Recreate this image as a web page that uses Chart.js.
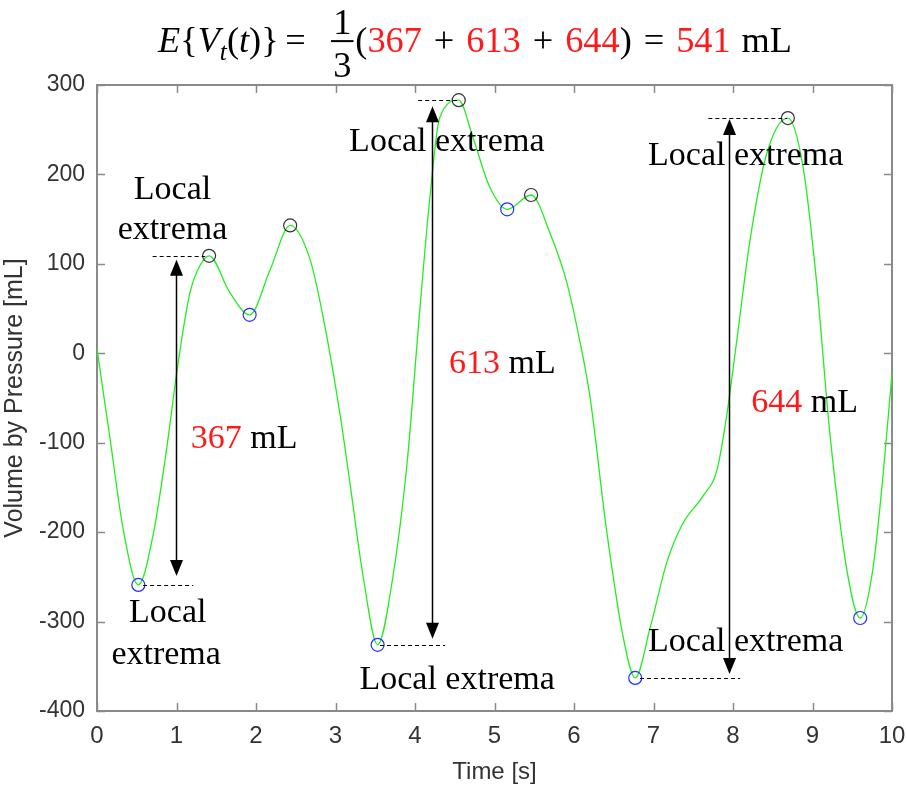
<!DOCTYPE html>
<html>
<head>
<meta charset="utf-8">
<script src="https://cdn.jsdelivr.net/npm/chart.js@4.4.1/dist/chart.umd.min.js"></script>
<style>
html,body{margin:0;padding:0;background:#fff;}
canvas{display:block;}
</style>
</head>
<body>
<canvas id="c" width="907" height="790"></canvas>
<script>
// ---- data ----
const timeS = [0, 0.16, 0.33, 0.52, 0.71, 0.88, 1.02, 1.17, 1.30, 1.41, 1.67, 1.92, 2.18, 2.43, 2.68, 2.85,
  3.06, 3.18, 3.35, 3.53, 3.72, 3.90, 4.06, 4.19, 4.31, 4.55, 4.73, 4.94, 5.16, 5.46, 5.70, 5.91, 6.07,
  6.20, 6.41, 6.62, 6.77, 6.96, 7.17, 7.37, 7.62, 7.80, 7.92, 8.05, 8.21, 8.42, 8.69, 8.88, 9.05, 9.22,
  9.43, 9.60, 9.76, 9.89, 10];
const volumeML = [5, -93, -197, -259, -201, -104, -11, 68, 99, 109, 68, 43, 94, 143, 105, 38,
  -70, -144, -251, -326, -251, -123, 48, 177, 263, 283, 241, 186, 161, 177, 134, 79, 15,
  -48, -198, -318, -363, -306, -233, -190, -160, -130, -70, 16, 124, 222, 263, 209, 81, -91,
  -241, -296, -241, -134, -22];
const maxTime = [1.41, 2.43, 4.55, 5.46, 8.69];
const maxVol  = [109, 143, 283, 177, 263];
const minTime = [0.52, 1.92, 3.53, 5.16, 6.77, 9.60];
const minVol  = [-259, 43, -326, 161, -363, -296];
const spanValues = [367, 613, 644];
const meanValue = 541;
const xTickValues = [0, 1, 2, 3, 4, 5, 6, 7, 8, 9, 10];
const yTickValues = [-400, -300, -200, -100, 0, 100, 200, 300];

// ---- annotation layout (data units) ----
const arrowDefs = [
  {t: 0.99, top: maxVol[0], bot: minVol[0], topDash: [0.70, 1.36], botDash: [0.58, 1.21], insetTop: 4, insetBot: 9},
  {t: 4.21, top: maxVol[2], bot: minVol[2], topDash: [4.04, 4.55], botDash: [3.56, 4.38], insetTop: 6, insetBot: 6},
  {t: 7.95, top: maxVol[4], bot: minVol[4], topDash: [7.69, 8.68], botDash: [6.83, 8.09], insetTop: 1, insetBot: 4}
];
const textDefs = [
  {s: 'Local', t: 0.95, v: 172},
  {s: 'extrema', t: 0.95, v: 128},
  {s: 'Local', t: 0.89, v: -300},
  {s: 'extrema', t: 0.87, v: -348},
  {s: 'Local extrema', t: 4.40, v: 226},
  {s: 'Local extrema', t: 4.53, v: -375},
  {s: 'Local extrema', t: 8.16, v: 210},
  {s: 'Local extrema', t: 8.16, v: -333}
];
const valueDefs = [
  {i: 0, t: 1.85, v: -106},
  {i: 1, t: 5.10, v: -22},
  {i: 2, t: 8.90, v: -66}
];

const SERIF = '"Liberation Serif","Times New Roman",serif';
const SANS = '"Liberation Sans",Arial,sans-serif';
const NARROW = '"Liberation Sans Narrow","Arial Narrow","Liberation Sans",sans-serif';
const RED = '#ff1a1a';

function drawTitle(ctx) {
  const pieces = [
    {s: 'E', it: 1}, {s: '{'}, {s: 'V', it: 1}, {s: 't', it: 1, sub: 1}, {s: '('}, {s: 't', it: 1}, {s: ')}'},
    {gap: 0.18}, {s: '='}, {gap: 0.7}, {frac: ['1', '3']}, {gap: 0.05}, {s: '('},
    {s: String(spanValues[0]), red: 1}, {gap: 0.33}, {s: '+'}, {gap: 0.33},
    {s: String(spanValues[1]), red: 1}, {gap: 0.33}, {s: '+'}, {gap: 0.33},
    {s: String(spanValues[2]), red: 1}, {s: ')'}, {gap: 0.33}, {s: '='}, {gap: 0.33},
    {s: String(meanValue), red: 1}, {gap: 0.3}, {s: 'mL'}
  ];
  function fontFor(p, size) {
    const sz = p.sub ? size * 0.7 : size;
    return (p.it ? 'italic ' : '') + sz + 'px ' + SERIF;
  }
  function layout(size, draw, startX) {
    let x = startX || 0;
    const base = 52;
    for (const p of pieces) {
      if (p.gap !== undefined) { x += p.gap * size; continue; }
      if (p.frac) {
        ctx.font = size + 'px ' + SERIF;
        const w = Math.max(ctx.measureText(p.frac[0]).width, ctx.measureText(p.frac[1]).width) + 0.12 * size;
        if (draw) {
          ctx.fillStyle = '#000';
          ctx.textAlign = 'center';
          ctx.fillText(p.frac[0], x + w / 2, base - 0.5 * size);
          ctx.fillText(p.frac[1], x + w / 2, base + 0.68 * size);
          ctx.fillRect(x, base - 0.3 * size - 1, w, 2);
          ctx.textAlign = 'left';
        }
        x += w;
        continue;
      }
      ctx.font = fontFor(p, size);
      const w = ctx.measureText(p.s).width;
      if (draw) {
        ctx.fillStyle = p.red ? RED : '#000';
        ctx.fillText(p.s, x, base + (p.sub ? 0.22 * size : 0));
      }
      x += w;
    }
    return x - (startX || 0);
  }
  ctx.save();
  ctx.textBaseline = 'alphabetic';
  ctx.textAlign = 'left';
  const w0 = layout(34, false);
  const size = 34 * 634 / w0;
  const w1 = layout(size, false);
  layout(size, true, 475 - w1 / 2);
  ctx.restore();
}

function arrowHead(ctx, x, y, dir) {
  ctx.beginPath();
  ctx.moveTo(x, y);
  ctx.lineTo(x - 6.5, y - dir * 16);
  ctx.lineTo(x + 6.5, y - dir * 16);
  ctx.closePath();
  ctx.fill();
}

const annotationPlugin = {
  id: 'annotations',
  beforeDraw(chart) {
    const ctx = chart.ctx;
    ctx.save();
    ctx.fillStyle = '#fff';
    ctx.fillRect(0, 0, chart.width, chart.height);
    ctx.restore();
  },
  beforeDatasetsDraw(chart) {
    const ctx = chart.ctx;
    const a = chart.chartArea;
    const xs = chart.scales.x, ys = chart.scales.y;
    ctx.save();
    ctx.strokeStyle = '#8a8a8a';
    ctx.lineWidth = 1.5;
    ctx.beginPath();
    for (const v of xTickValues) {
      const px = Math.round(xs.getPixelForValue(v)) + 0.5;
      ctx.moveTo(px, a.bottom); ctx.lineTo(px, a.bottom - 8);
      ctx.moveTo(px, a.top); ctx.lineTo(px, a.top + 8);
    }
    for (const v of yTickValues) {
      const py = Math.round(ys.getPixelForValue(v)) + 0.5;
      ctx.moveTo(a.left, py); ctx.lineTo(a.left + 8, py);
      ctx.moveTo(a.right, py); ctx.lineTo(a.right - 8, py);
    }
    ctx.stroke();
    ctx.lineWidth = 2;
    ctx.strokeRect(a.left, a.top, a.right - a.left, a.bottom - a.top);
    ctx.restore();
  },
  afterDatasetsDraw(chart) {
    const ctx = chart.ctx;
    const xs = chart.scales.x, ys = chart.scales.y;
    const X = v => xs.getPixelForValue(v), Y = v => ys.getPixelForValue(v);
    ctx.save();
    ctx.strokeStyle = '#000';
    ctx.lineWidth = 1;
    ctx.setLineDash([4, 3]);
    ctx.beginPath();
    for (const d of arrowDefs) {
      const yt = Math.round(Y(d.top)) + 0.5, yb = Math.round(Y(d.bot)) + 0.5;
      ctx.moveTo(X(d.topDash[0]), yt); ctx.lineTo(X(d.topDash[1]), yt);
      ctx.moveTo(X(d.botDash[0]), yb); ctx.lineTo(X(d.botDash[1]), yb);
    }
    ctx.stroke();
    ctx.setLineDash([]);
    ctx.fillStyle = '#000';
    ctx.lineWidth = 1.5;
    for (const d of arrowDefs) {
      const x = Math.round(X(d.t)) + 0.5;
      const yt = Y(d.top) + d.insetTop, yb = Y(d.bot) - d.insetBot;
      ctx.beginPath();
      ctx.moveTo(x, yt + 10); ctx.lineTo(x, yb - 10);
      ctx.stroke();
      arrowHead(ctx, x, yt, -1);
      arrowHead(ctx, x, yb, 1);
    }
    ctx.textBaseline = 'alphabetic';
    ctx.textAlign = 'center';
    ctx.font = '34px ' + SERIF;
    ctx.fillStyle = '#000';
    for (const t of textDefs) {
      ctx.fillText(t.s, X(t.t), Y(t.v));
    }
    for (const d of valueDefs) {
      const num = String(spanValues[d.i]);
      const unit = ' mL';
      const wn = ctx.measureText(num).width, wu = ctx.measureText(unit).width;
      const x0 = X(d.t) - (wn + wu) / 2;
      ctx.textAlign = 'left';
      ctx.fillStyle = RED;
      ctx.fillText(num, x0, Y(d.v));
      ctx.fillStyle = '#000';
      ctx.fillText(unit, x0 + wn, Y(d.v));
      ctx.textAlign = 'center';
    }
    ctx.restore();
  },
  afterDraw(chart) {
    drawTitle(chart.ctx);
  }
};

new Chart(document.getElementById('c'), {
  type: 'line',
  data: {
    datasets: [
      {
        label: 'Local maxima',
        data: maxTime.map((t, i) => ({x: t, y: maxVol[i]})),
        showLine: false,
        pointRadius: 6.5,
        pointBorderWidth: 1.2,
        pointBorderColor: '#333',
        pointBackgroundColor: 'rgba(0,0,0,0)',
        borderColor: '#333'
      },
      {
        label: 'Local minima',
        data: minTime.map((t, i) => ({x: t, y: minVol[i]})),
        showLine: false,
        pointRadius: 6.5,
        pointBorderWidth: 1.2,
        pointBorderColor: '#2a2aff',
        pointBackgroundColor: 'rgba(0,0,0,0)',
        borderColor: '#2a2aff'
      },
      {
        label: 'Volume',
        data: timeS.map((t, i) => ({x: t, y: volumeML[i]})),
        borderColor: '#22ee22',
        borderWidth: 1.3,
        pointRadius: 0,
        cubicInterpolationMode: 'monotone',
        fill: false
      }
    ]
  },
  options: {
    responsive: false,
    animation: false,
    devicePixelRatio: 1,
    layout: {padding: {top: 85, right: 15, left: 0, bottom: 0}, autoPadding: false},
    plugins: {legend: {display: false}, tooltip: {enabled: false}, title: {display: false}},
    scales: {
      x: {
        type: 'linear', min: 0, max: 10,
        afterFit: s => { s.height = 79; s.paddingLeft = 0; s.paddingRight = 0; },
        afterBuildTicks: s => { s.ticks = xTickValues.map(v => ({value: v})); },
        grid: {display: false, drawTicks: false},
        border: {display: false},
        ticks: {padding: 11, color: '#333', font: {family: NARROW, size: 24}, maxRotation: 0},
        title: {display: true, text: 'Time [s]', color: '#333', font: {family: NARROW, size: 24}, padding: 3}
      },
      y: {
        type: 'linear', min: -400, max: 300,
        afterFit: s => { s.width = 97; s.paddingTop = 0; s.paddingBottom = 0; },
        afterBuildTicks: s => { s.ticks = yTickValues.map(v => ({value: v})); },
        grid: {display: false, drawTicks: false},
        border: {display: false},
        ticks: {padding: 12, color: '#333', font: {family: SANS, size: 23}},
        title: {display: true, text: 'Volume by Pressure [mL]', color: '#333', font: {family: SANS, size: 25}, padding: 0}
      }
    }
  },
  plugins: [annotationPlugin]
});
</script>
</body>
</html>
